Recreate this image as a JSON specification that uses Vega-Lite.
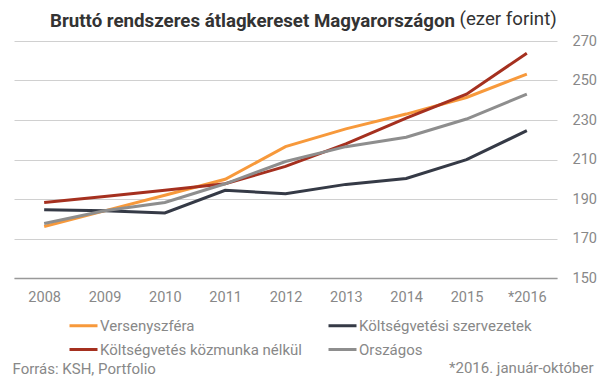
{
  "$schema": "https://vega.github.io/schema/vega-lite/v6.json",
  "width": 543,
  "height": 237,
  "autosize": {"type": "none"},
  "padding": {"left": 14, "top": 41, "right": 49, "bottom": 100},
  "background": "white",
  "title": {
    "text": "Bruttó rendszeres átlagkereset Magyarországon",
    "anchor": "start",
    "frame": "group",
    "dx": 36,
    "dy": 22,
    "font": "Roboto",
    "fontSize": 18.7,
    "fontWeight": "bold",
    "color": "#333333",
    "offset": 0
  },
  "config": {
    "view": {"stroke": null},
    "font": "Roboto",
    "axis": {"labelFont": "Roboto", "titleFont": "Roboto"},
    "legend": {"labelFont": "Roboto"}
  },
  "data": {
    "values": [
      {"year": "2008", "series": "Versenyszféra", "value": 176.1},
      {"year": "2009", "series": "Versenyszféra", "value": 184.0},
      {"year": "2010", "series": "Versenyszféra", "value": 191.9},
      {"year": "2011", "series": "Versenyszféra", "value": 200.0},
      {"year": "2012", "series": "Versenyszféra", "value": 216.5},
      {"year": "2013", "series": "Versenyszféra", "value": 225.5},
      {"year": "2014", "series": "Versenyszféra", "value": 233.0},
      {"year": "2015", "series": "Versenyszféra", "value": 241.4},
      {"year": "*2016", "series": "Versenyszféra", "value": 253.2},
      {"year": "2008", "series": "Költségvetési szervezetek", "value": 184.6},
      {"year": "2009", "series": "Költségvetési szervezetek", "value": 184.1},
      {"year": "2010", "series": "Költségvetési szervezetek", "value": 182.9},
      {"year": "2011", "series": "Költségvetési szervezetek", "value": 194.4},
      {"year": "2012", "series": "Költségvetési szervezetek", "value": 192.7},
      {"year": "2013", "series": "Költségvetési szervezetek", "value": 197.4},
      {"year": "2014", "series": "Költségvetési szervezetek", "value": 200.4},
      {"year": "2015", "series": "Költségvetési szervezetek", "value": 209.9},
      {"year": "*2016", "series": "Költségvetési szervezetek", "value": 224.6},
      {"year": "2008", "series": "Költségvetés közmunka nélkül", "value": 188.2},
      {"year": "2009", "series": "Költségvetés közmunka nélkül", "value": 191.3},
      {"year": "2010", "series": "Költségvetés közmunka nélkül", "value": 194.4},
      {"year": "2011", "series": "Költségvetés közmunka nélkül", "value": 197.7},
      {"year": "2012", "series": "Költségvetés közmunka nélkül", "value": 206.5},
      {"year": "2013", "series": "Költségvetés közmunka nélkül", "value": 217.9},
      {"year": "2014", "series": "Költségvetés közmunka nélkül", "value": 231.0},
      {"year": "2015", "series": "Költségvetés közmunka nélkül", "value": 243.1},
      {"year": "*2016", "series": "Költségvetés közmunka nélkül", "value": 263.8},
      {"year": "2008", "series": "Országos", "value": 177.6},
      {"year": "2009", "series": "Országos", "value": 184.0},
      {"year": "2010", "series": "Országos", "value": 188.2},
      {"year": "2011", "series": "Országos", "value": 197.7},
      {"year": "2012", "series": "Országos", "value": 209.0},
      {"year": "2013", "series": "Országos", "value": 216.5},
      {"year": "2014", "series": "Országos", "value": 221.3},
      {"year": "2015", "series": "Országos", "value": 230.5},
      {"year": "*2016", "series": "Országos", "value": 243.1}
    ]
  },
  "encoding": {
    "x": {
      "field": "year",
      "type": "ordinal",
      "sort": null,
      "scale": {"type": "point", "padding": 0.5},
      "axis": {
        "title": "Forrás: KSH, Portfolio",
        "titleX": -2,
        "titleY": 95,
        "titleAlign": "left",
        "titleAnchor": null,
        "titleBaseline": "alphabetic",
        "titleFontSize": 15,
        "titleFontWeight": "normal",
        "titleColor": "#888888",
        "labelAngle": 0,
        "labelFontSize": 14.5,
        "labelColor": "#888888",
        "labelPadding": 12,
        "ticks": false,
        "domain": true,
        "domainColor": "#999999",
        "domainWidth": 1.5,
        "grid": false
      }
    }
  },
  "layer": [
    {
      "mark": {"type": "line", "strokeWidth": 3},
      "encoding": {
        "y": {
          "field": "value",
          "type": "quantitative",
          "scale": {"domain": [150, 270], "nice": false, "zero": false},
          "axis": {
            "orient": "right",
            "values": [150, 170, 190, 210, 230, 250, 270],
            "title": "(ezer forint)",
            "titleAngle": 0,
            "titleX": -98,
            "titleY": -17,
            "titleAlign": "left",
            "titleAnchor": null,
            "titleBaseline": "alphabetic",
            "titleFontSize": 18.7,
            "titleFontWeight": "normal",
            "titleColor": "#333333",
            "labelFontSize": 14.5,
            "labelColor": "#888888",
            "labelPadding": 15,
            "ticks": false,
            "domain": false,
            "grid": true,
            "gridColor": "#d0d0d0",
            "gridWidth": 1
          }
        },
        "color": {
          "field": "series",
          "type": "nominal",
          "scale": {
            "domain": ["Versenyszféra", "Költségvetési szervezetek", "Költségvetés közmunka nélkül", "Országos"],
            "range": ["#F7993B", "#353A46", "#A5301F", "#8E8E8E"]
          },
          "legend": {
            "title": null,
            "orient": "none",
            "legendX": 54,
            "legendY": 269,
            "direction": "horizontal",
            "columns": 2,
            "columnPadding": 20,
            "rowPadding": -5,
            "padding": 0,
            "symbolType": "stroke",
            "symbolSize": 784,
            "symbolStrokeWidth": 3,
            "labelOffset": 1,
            "labelFontSize": 15,
            "labelColor": "#888888",
            "labelLimit": 400
          }
        }
      }
    },
    {
      "mark": {"type": "point", "opacity": 0},
      "encoding": {
        "y": {
          "field": "value",
          "type": "quantitative",
          "axis": {
            "orient": "left",
            "title": "*2016. január-október",
            "titleAngle": 0,
            "titleX": 579,
            "titleY": 331,
            "titleAlign": "right",
            "titleAnchor": null,
            "titleBaseline": "alphabetic",
            "titleFontSize": 15,
            "titleFontWeight": "normal",
            "titleColor": "#888888",
            "labels": false,
            "ticks": false,
            "domain": false,
            "grid": false
          }
        }
      }
    }
  ],
  "resolve": {"axis": {"y": "independent"}}
}
